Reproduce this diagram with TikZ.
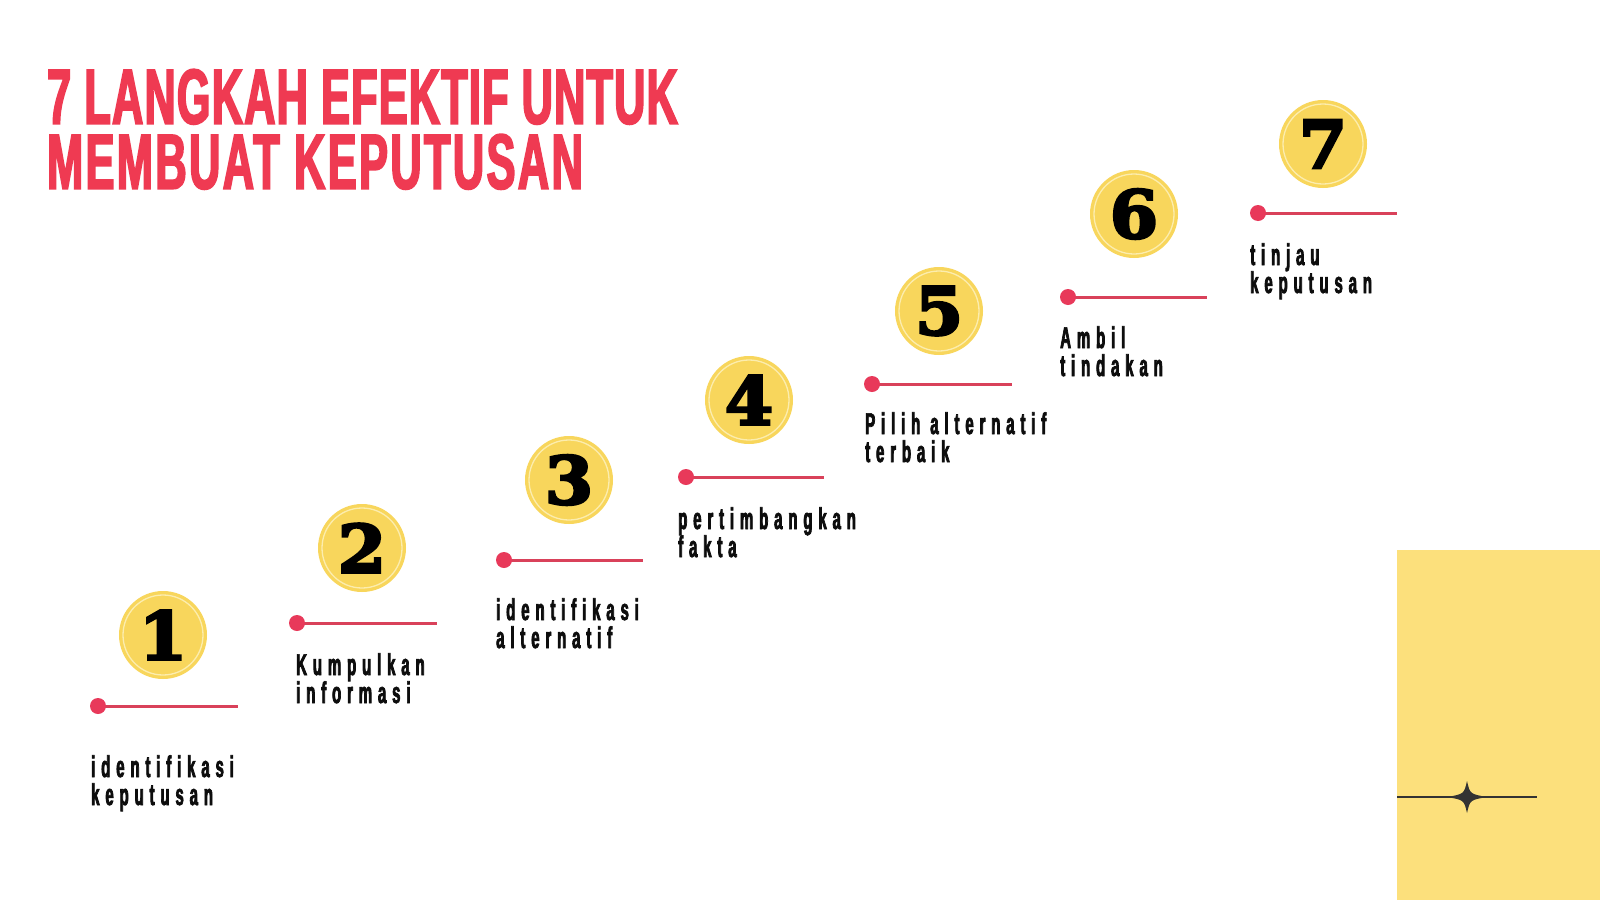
\documentclass[tikz,border=0pt]{standalone}
\usepackage{fontspec}
\newfontfamily\titlefont[FakeStretch=0.555,FakeBold=2.2,LetterSpace=1.5]{Liberation Sans Bold}
\newfontfamily\titlefontb[FakeStretch=0.555,FakeBold=2.2,LetterSpace=3.1]{Liberation Sans Bold}
\newfontfamily\bodyfont[FakeStretch=0.5,LetterSpace=19.5,FakeBold=2.4]{Liberation Sans Bold}
\newfontfamily\numfont[FakeBold=4,FakeStretch=1.05]{DejaVu Serif Bold}
\definecolor{titlered}{HTML}{EF3A52}
\definecolor{dotred}{HTML}{E8395A}
\definecolor{linered}{HTML}{D9415A}
\definecolor{coin}{HTML}{F8D65C}
\definecolor{coinring}{HTML}{FCEDAE}
\definecolor{panel}{HTML}{FCE07C}
\definecolor{starc}{HTML}{333333}
\tikzset{
  coinnode/.style={circle,fill=coin,minimum size=88pt,inner sep=0pt},
  ringstyle/.style={draw=coinring,line width=1.3pt},
  digit/.style={font=\numfont\fontsize{66}{66}\selectfont,text=black,inner sep=0pt},
  dotnode/.style={circle,fill=dotred,minimum size=16pt,inner sep=0pt},
  stepline/.style={draw=linered,line width=3pt},
  label/.style={font=\bodyfont\fontsize{30}{30}\selectfont,text=black!95,inner sep=0pt,anchor=base west,text height=22pt,text depth=5pt},
  title/.style={font=\titlefont\fontsize{78}{65}\selectfont,text=titlered,inner sep=0pt,anchor=north west,align=left}
}
\begin{document}
\begin{tikzpicture}[x=1pt,y=-1pt]
\useasboundingbox (0,0) rectangle (1600,900);
\fill[white] (0,0) rectangle (1600,900);
% yellow panel
\fill[panel] (1397,550) rectangle (1600,900);
\coordinate (sl) at (1397,797);
\coordinate (sr) at (1537,797);
\draw[starc,line width=1.2pt] (sl) -- (sr);
\coordinate (st) at (1467,797);
\fill[starc] ([xshift=20pt]st) .. controls ([xshift=3pt,yshift=-3pt]st) .. ([yshift=-16pt]st)
  .. controls ([xshift=-3pt,yshift=-3pt]st) .. ([xshift=-20pt]st)
  .. controls ([xshift=-3pt,yshift=3pt]st) .. ([yshift=16pt]st)
  .. controls ([xshift=3pt,yshift=3pt]st) .. cycle;
% title
\node[title] (t1) at (47,69) {7 LANGKAH EFEKTIF UNTUK\\{\titlefontb\fontsize{78}{65}\selectfont MEMBUAT KEPUTUSAN}};
% steps
\foreach \i/\cx/\cy/\dx/\dy/\ex/\tx/\ta/\la/\lb in {
  1/163/635/98/706/238/91/777/{identifikasi}/{keputusan},
  2/362/548/297/623/437/296/675/{Kumpulkan}/{informasi},
  3/569/480/504/560/643/496/620/{identifikasi}/{alternatif},
  4/749/400/686/477/824/678/529/{pertimbangkan}/{fakta},
  5/939/311/872/384/1012/865/434/{Pilih alternatif}/{terbaik},
  6/1134/214/1068/297/1207/1060/348/{Ambil}/{tindakan},
  7/1323/144/1258/213/1397/1250/265/{tinjau}/{keputusan}}{
  \node[coinnode] (c\i) at (\cx,\cy) {};
  \draw[ringstyle] (c\i.center) circle[radius=40pt];
  \node[digit] (n\i) at (c\i.center) {\i};
  \coordinate (p\i) at (\dx,\dy);
  \coordinate (e\i) at (\ex,\dy);
  \draw[stepline] (p\i) -- (e\i);
  \node[dotnode] (d\i) at (p\i) {};
  \pgfmathsetmacro{\tb}{\ta+28}
  \node[label] (a\i) at (\tx,\ta) {\la};
  \node[label] (b\i) at (\tx,\tb) {\lb};
}
\end{tikzpicture}
\end{document}
